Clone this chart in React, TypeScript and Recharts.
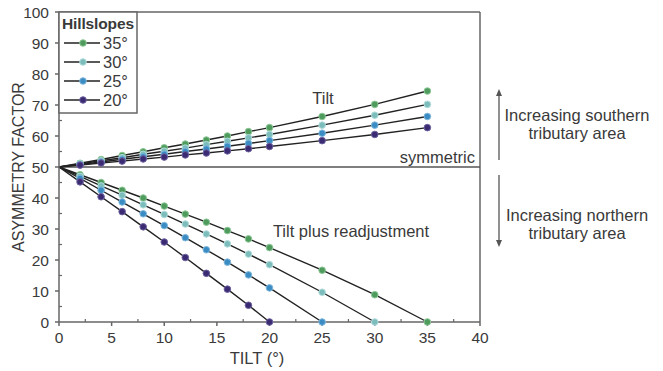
import React from "react";
import { LineChart, Line, XAxis, YAxis, ReferenceLine } from "recharts";

// tilt values (degrees) for each run
const tiltX = [0, 2, 4, 6, 8, 10, 12, 14, 16, 18, 20, 25, 30, 35];
const readjX35 = [0, 2, 4, 6, 8, 10, 12, 14, 16, 18, 20, 25, 30, 35];
const readjX30 = [0, 2, 4, 6, 8, 10, 12, 14, 16, 18, 20, 25, 30];
const readjX25 = [0, 2, 4, 6, 8, 10, 12, 14, 16, 18, 20, 25];
const readjX20 = [0, 2, 4, 6, 8, 10, 12, 14, 16, 18, 20];

// "Tilt" branch (upper)
const tilt35 = [50, 51.2, 52.4, 53.7, 54.9, 56.2, 57.4, 58.7, 60.0, 61.4, 62.7, 66.3, 70.2, 74.5];
const tilt30 = [50, 51.0, 52.0, 53.0, 54.1, 55.1, 56.1, 57.2, 58.3, 59.4, 60.5, 63.5, 66.7, 70.2];
const tilt25 = [50, 50.8, 51.6, 52.5, 53.3, 54.1, 55.0, 55.8, 56.7, 57.6, 58.5, 60.9, 63.5, 66.3];
const tilt20 = [50, 50.6, 51.3, 51.9, 52.6, 53.2, 53.9, 54.5, 55.2, 55.9, 56.6, 58.5, 60.5, 62.7];

// "Tilt plus readjustment" branch (lower)
const readj35 = [50, 47.5, 45.0, 42.5, 40.0, 37.4, 34.8, 32.2, 29.5, 26.8, 24.0, 16.7, 8.8, 0];
const readj30 = [50, 47.0, 43.9, 40.9, 37.8, 34.7, 31.6, 28.4, 25.2, 21.9, 18.5, 9.6, 0];
const readj25 = [50, 46.3, 42.5, 38.7, 34.9, 31.1, 27.2, 23.3, 19.3, 15.2, 11.0, 0];
const readj20 = [50, 45.2, 40.4, 35.6, 30.7, 25.8, 20.8, 15.7, 10.6, 5.4, 0];

const xTicks = [0, 5, 10, 15, 20, 25, 30, 35, 40];
const yTicks = [0, 10, 20, 30, 40, 50, 60, 70, 80, 90, 100];
const xMinor = [2.5, 7.5, 12.5, 17.5, 22.5, 27.5, 32.5, 37.5];
const yMinor = [5, 15, 25, 35, 45, 55, 65, 75, 85, 95];

const hillslopes = ["35°", "30°", "25°", "20°"];
const colors: Record<string, string> = {
  "35°": "#4f9b5d",
  "30°": "#7cbdbc",
  "25°": "#3a8cc3",
  "20°": "#3b2b72",
};
const rims: Record<string, string> = {
  "35°": "#8cc796",
  "30°": "#b2dcdc",
  "25°": "#7fb8de",
  "20°": "#6e62a0",
};

const toPoints = (xs: number[], ys: number[]) => xs.map((x, i) => ({ x, y: ys[i] }));

const series = [
  { id: "t35", h: "35°", data: toPoints(tiltX, tilt35) },
  { id: "t30", h: "30°", data: toPoints(tiltX, tilt30) },
  { id: "t25", h: "25°", data: toPoints(tiltX, tilt25) },
  { id: "t20", h: "20°", data: toPoints(tiltX, tilt20) },
  { id: "r35", h: "35°", data: toPoints(readjX35, readj35) },
  { id: "r30", h: "30°", data: toPoints(readjX30, readj30) },
  { id: "r25", h: "25°", data: toPoints(readjX25, readj25) },
  { id: "r20", h: "20°", data: toPoints(readjX20, readj20) },
];

// plot box (px) used by the overlay decorations
const L = 59, T = 12, R = 480, B = 322;
const px = (v: number) => L + (v / 40) * (R - L);
const py = (v: number) => B - (v / 100) * (B - T);

const axisColor = "#666";
const textColor = "#3a3a3a";

const makeDot = (h: string) => (p: any) => {
  if (p.payload.x === 0) return <g key={p.key} />;
  return (
    <circle
      key={p.key}
      cx={p.cx}
      cy={p.cy}
      r={3.3}
      fill={colors[h]}
      stroke={rims[h]}
      strokeWidth={1}
    />
  );
};

export default function App() {
  return (
    <div
      style={{
        position: "absolute",
        left: 0,
        top: 0,
        width: 663,
        height: 371,
        background: "#fff",
        fontFamily: "'Liberation Sans', Arial, sans-serif",
      }}
    >
      <LineChart
        width={663}
        height={371}
        margin={{ top: T, right: 663 - R, bottom: 19, left: 0 }}
      >
        <XAxis
          type="number"
          dataKey="x"
          domain={[0, 40]}
          ticks={xTicks}
          height={30}
          tickSize={4}
          tickMargin={6}
          stroke={axisColor}
          strokeWidth={1.5}
          tick={{ fontSize: 15.5, fill: textColor }}
          allowDuplicatedCategory={false}
        />
        <YAxis
          type="number"
          dataKey="y"
          domain={[0, 100]}
          ticks={yTicks}
          width={L}
          tickSize={4}
          tickMargin={6}
          stroke={axisColor}
          strokeWidth={1.5}
          tick={{ fontSize: 15.5, fill: textColor }}
        />
        <ReferenceLine y={100} stroke={axisColor} strokeWidth={1.5} />
        <ReferenceLine x={40} stroke={axisColor} strokeWidth={1.5} />
        <ReferenceLine y={50} stroke="#555" strokeWidth={1.5} />
        {series.map((s) => (
          <Line
            key={s.id}
            data={s.data}
            dataKey="y"
            type="linear"
            stroke="#222"
            strokeWidth={1.4}
            dot={makeDot(s.h)}
            activeDot={false}
            isAnimationActive={false}
          />
        ))}
      </LineChart>

      <svg
        width={663}
        height={371}
        style={{ position: "absolute", left: 0, top: 0, pointerEvents: "none" }}
      >
        {yMinor.map((v) => (
          <line key={"ym" + v} x1={L} x2={L + 3} y1={py(v)} y2={py(v)} stroke={axisColor} strokeWidth={1.2} />
        ))}
        {xMinor.map((v) => (
          <line key={"xm" + v} x1={px(v)} x2={px(v)} y1={B} y2={B - 3} stroke={axisColor} strokeWidth={1.2} />
        ))}

        {/* legend */}
        <rect x={L} y={T} width={78} height={101} fill="#fff" stroke={axisColor} strokeWidth={1.5} />
        <text x={62} y={29} fontSize={15.5} fontWeight="bold" fill={textColor} textLength={72}>
          Hillslopes
        </text>
        {hillslopes.map((h, i) => {
          const cy = 43 + i * 19;
          return (
            <g key={h}>
              <line x1={64} x2={100} y1={cy} y2={cy} stroke="#222" strokeWidth={1.4} />
              <circle cx={83} cy={cy} r={3.3} fill={colors[h]} stroke={rims[h]} strokeWidth={1} />
              <text x={103} y={cy + 6} fontSize={16.5} fill={textColor}>
                {h}
              </text>
            </g>
          );
        })}

        {/* in-plot annotations */}
        <text x={323} y={104} fontSize={16.5} fill={textColor} textAnchor="middle">
          Tilt
        </text>
        <text x={475} y={163} fontSize={16.5} fill={textColor} textAnchor="end">
          symmetric
        </text>
        <text x={351} y={237} fontSize={16.5} fill={textColor} textAnchor="middle">
          Tilt plus readjustment
        </text>

        {/* axis titles */}
        <text x={257} y={364} fontSize={16.5} fill={textColor} textAnchor="middle">
          TILT (°)
        </text>
        <text
          x={24}
          y={167}
          fontSize={16}
          fill={textColor}
          textAnchor="middle"
          transform="rotate(-90 24 167)"
        >
          ASYMMETRY FACTOR
        </text>

        {/* right side arrows */}
        <line x1={499} x2={499} y1={94} y2={160} stroke="#555" strokeWidth={1.3} />
        <path d="M499 89 L496 96 L502 96 Z" fill="#555" />
        <line x1={499} x2={499} y1={175} y2={241} stroke="#555" strokeWidth={1.3} />
        <path d="M499 247 L496 240 L502 240 Z" fill="#555" />
        <text x={577} y={121} fontSize={16.5} fill={textColor} textAnchor="middle">
          Increasing southern
        </text>
        <text x={577} y={139} fontSize={16.5} fill={textColor} textAnchor="middle">
          tributary area
        </text>
        <text x={577} y={221} fontSize={16.5} fill={textColor} textAnchor="middle">
          Increasing northern
        </text>
        <text x={577} y={239} fontSize={16.5} fill={textColor} textAnchor="middle">
          tributary area
        </text>
      </svg>
    </div>
  );
}
